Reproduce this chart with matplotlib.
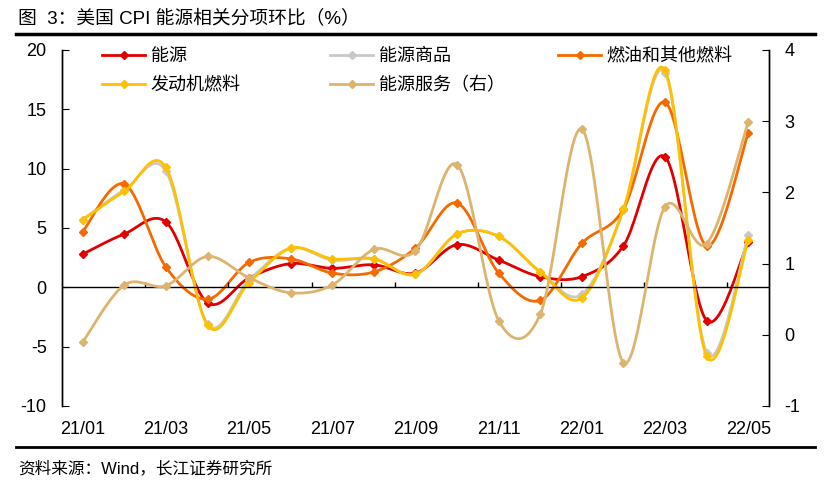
import numpy as np
import matplotlib.pyplot as plt
from matplotlib.lines import Line2D

plt.rcParams['font.family'] = ['Liberation Sans', 'Noto Sans CJK SC', 'DejaVu Sans']
plt.rcParams['axes.unicode_minus'] = False

# -------------------------
# data
# -------------------------
months = ['21/01', '21/02', '21/03', '21/04', '21/05', '21/06', '21/07', '21/08', '21/09',
          '21/10', '21/11', '21/12', '22/01', '22/02', '22/03', '22/04', '22/05']
energy = [2.8, 4.5, 5.5, -1.3, 0.8, 2.0, 1.6, 1.9, 1.2, 3.6, 2.3, 0.9, 0.9, 3.5, 11.0, -2.8, 3.8]
energy_goods = [5.7, 8.2, 9.8, -3.1, 0.6, 3.3, 2.3, 2.4, 1.1, 4.5, 4.3, 1.3, -0.6, 6.5, 18.1, -5.5, 4.4]
fuel_oil = [4.7, 8.7, 1.7, -1.0, 2.1, 2.4, 1.2, 1.3, 3.3, 7.1, 1.2, -1.1, 3.7, 6.6, 15.6, 3.5, 13.0]
motor_fuel = [5.7, 8.1, 10.1, -3.2, 0.4, 3.3, 2.4, 2.4, 1.1, 4.5, 4.3, 1.3, -0.9, 6.6, 18.3, -5.8, 4.0]
energy_services = [-0.1, 0.70, 0.69, 1.10, 0.80, 0.59, 0.70, 1.20, 1.18, 2.39, 0.20, 0.29, 2.89, -0.39, 1.80, 1.28, 2.99]

red = '#E00000'
gray = '#C8C8C8'
orange = '#F56A00'
yellow = '#FFC000'
tan = '#DDB46E'


def smooth(xs, ys, n=24):
    # catmull-rom curve through the points, like excel's smoothed line
    x = np.asarray(xs, float)
    y = np.asarray(ys, float)
    px = np.concatenate([[x[0]], x, [x[-1]]])
    py = np.concatenate([[y[0]], y, [y[-1]]])
    t = np.linspace(0, 1, n, endpoint=False)
    outx, outy = [], []
    for i in range(1, len(px) - 2):
        for p, out in ((px, outx), (py, outy)):
            p0, p1, p2, p3 = p[i - 1], p[i], p[i + 1], p[i + 2]
            out.extend(0.5 * (2 * p1 + (-p0 + p2) * t + (2 * p0 - 5 * p1 + 4 * p2 - p3) * t ** 2
                              + (-p0 + 3 * p1 - 3 * p2 + p3) * t ** 3))
    outx.append(x[-1])
    outy.append(y[-1])
    return outx, outy


fig = plt.figure(figsize=(8.29, 4.95), dpi=100)
ax = fig.add_axes([62 / 829, 1 - 406 / 495, 707 / 829, 356 / 495])
ax2 = ax.twinx()

x = np.arange(len(months))
series = [(ax, energy, red, '能源'),
          (ax, energy_goods, gray, '能源商品'),
          (ax, fuel_oil, orange, '燃油和其他燃料'),
          (ax, motor_fuel, yellow, '发动机燃料'),
          (ax2, energy_services, tan, '能源服务（右）')]

handles = {}
for a, vals, c, name in series:
    sx, sy = smooth(x, vals)
    a.plot(sx, sy, color=c, lw=2, solid_capstyle='round')
    a.plot(x, vals, ls='none', marker='D', ms=4, color=c)
    handles[name] = Line2D([], [], color=c, lw=2, marker='D', ms=4)

ax.set_xlim(-0.5, len(months) - 0.5)
ax.set_ylim(-10, 20)
ax2.set_ylim(-1, 4)
ax.set_yticks(range(-10, 21, 5))
ax2.set_yticks(range(-1, 5))

ax.axhline(0, color='black', lw=1)
ax.vlines(np.arange(1.5, len(months) - 1, 2), 0, 0.45, color='black', lw=1)

ax.set_xticks(x[::2])
ax.set_xticklabels(months[::2])

for a in (ax, ax2):
    a.spines['top'].set_visible(False)
    a.spines['bottom'].set_visible(False)
    a.spines['left'].set_linewidth(1)
    a.spines['right'].set_linewidth(1)
ax.tick_params(axis='x', length=0, pad=11, labelsize=13)
ax.tick_params(axis='y', direction='in', length=5, pad=11, labelsize=13)
ax2.tick_params(axis='y', direction='in', length=5, pad=11, labelsize=13)

# legend laid out in three columns like the original
cols = [(['能源', '发动机燃料'], 102),
        (['能源商品', '能源服务（右）'], 330),
        (['燃油和其他燃料'], 558)]
for names, px in cols:
    leg = fig.legend([handles[n] for n in names], names, loc='upper left',
                     bbox_to_anchor=(px / 829, 1 - 48 / 495), frameon=False,
                     fontsize=13, handlelength=2.4, handletextpad=0.3,
                     labelspacing=0.68, borderpad=0, borderaxespad=0)

fig.text(18 / 829, 1 - 18 / 495, '图  3：美国 CPI 能源相关分项环比（%）', fontsize=13.5,
         va='center', ha='left')
fig.add_artist(Line2D([16 / 829, 815 / 829], [1 - 34 / 495, 1 - 34 / 495], color='black', lw=2.5))
fig.add_artist(Line2D([16 / 829, 815 / 829], [1 - 447 / 495, 1 - 447 / 495], color='black', lw=2))
fig.text(18 / 829, 1 - 468 / 495, '资料来源：Wind，长江证券研究所', fontsize=12,
         va='center', ha='left')

fig.savefig('out.png', dpi=100)
